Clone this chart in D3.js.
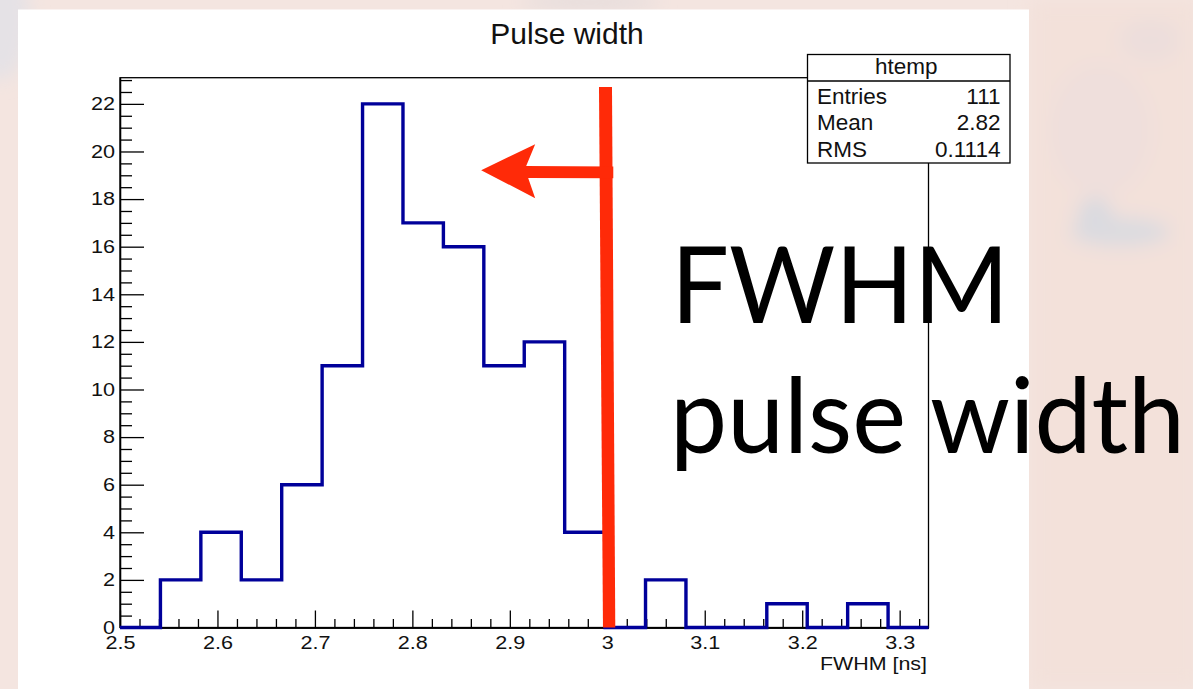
<!DOCTYPE html>
<html>
<head>
<meta charset="utf-8">
<script src="https://cdn.jsdelivr.net/npm/d3@7"></script>
<style>
  html, body { margin: 0; padding: 0; background: #f4e6e2; }
  svg { display: block; }
  .root-text { font-family: "Liberation Sans", Arial, Helvetica, sans-serif; fill: #111; }
  .big { font-family: Lato, "Open Sans", sans-serif; fill: #000; }
</style>
</head>
<body>
<svg id="chart" width="1193" height="689"></svg>
<script>
// Histogram "htemp": FWHM of the recorded pulses, 20 equal bins
const xRange = [2.5, 3.3296];
const binCounts = [0, 2, 4, 2, 6, 11, 22, 17, 16, 11, 12, 4, 0, 2, 0, 0, 1, 0, 1, 0];
const yRange = [0, 23.1];

// Axis ticks
const xMajorTicks = [2.5, 2.6, 2.7, 2.8, 2.9, 3.0, 3.1, 3.2, 3.3];
const yMajorTicks = [0, 2, 4, 6, 8, 10, 12, 14, 16, 18, 20, 22];
const xMinorStep = 0.02;
const yMinorStep = 0.5;

// Text
const chartTitle = "Pulse width";
const xAxisTitle = "FWHM [ns]";
const statsName = "htemp";
const statsLabels = ["Entries", "Mean", "RMS"];
const statsValues = ["111", "2.82", "0.1114"];
const bigLabels = ["FWHM", "pulse width"];

// Cut annotation: keep pulses narrower than 3 ns
const cutValue = 3.0;
const arrowLevel = 19.15;
const arrowTipValue = 2.8706;

const svg = d3.select("#chart");
const W = 1193, H = 689;

// ---- blurred backdrop ----
const defs = svg.append("defs");
defs.append("filter").attr("id", "soft").attr("x", "-50%").attr("y", "-50%")
  .attr("width", "200%").attr("height", "200%")
  .append("feGaussianBlur").attr("stdDeviation", 9);

const bg = svg.append("g");
bg.append("rect").attr("width", W).attr("height", H).attr("fill", "#f4e5e0");
const blobs = bg.append("g").attr("filter", "url(#soft)");
blobs.append("rect").attr("x", 1029).attr("y", 0).attr("width", 170).attr("height", H).attr("fill", "#f3e1da");
blobs.append("ellipse").attr("cx", 0).attr("cy", 20).attr("rx", 30).attr("ry", 60).attr("fill", "#e5e2e6");
blobs.append("ellipse").attr("cx", 590).attr("cy", 2).attr("rx", 70).attr("ry", 8).attr("fill", "#e4dcdc");
blobs.append("ellipse").attr("cx", 1100).attr("cy", 130).attr("rx", 50).attr("ry", 65).attr("fill", "#eedfdc").attr("opacity", 0.8);
blobs.append("ellipse").attr("cx", 1120).attr("cy", 232).attr("rx", 50).attr("ry", 15).attr("fill", "#dcdbe0");
blobs.append("ellipse").attr("cx", 1095).attr("cy", 215).attr("rx", 18).attr("ry", 18).attr("fill", "#dadae0");
blobs.append("ellipse").attr("cx", 1150).attr("cy", 40).attr("rx", 30).attr("ry", 20).attr("fill", "#ecdedc");

// ---- white canvas of the plot ----
svg.append("rect").attr("x", 18).attr("y", 9.5).attr("width", 1011).attr("height", H - 9.5).attr("fill", "#fff");

// ---- scales ----
const frame = { left: 120, right: 928.5, top: 77.7, bottom: 627.5 };
const x = d3.scaleLinear().domain(xRange).range([frame.left, frame.right]);
const y = d3.scaleLinear().domain(yRange).range([frame.bottom, frame.top]);

// Title
svg.append("text").attr("class", "root-text")
  .attr("x", 567).attr("y", 43.5).attr("text-anchor", "middle")
  .attr("font-size", 30).text(chartTitle);

// Frame box
svg.append("rect").attr("x", frame.left).attr("y", frame.top)
  .attr("width", frame.right - frame.left).attr("height", frame.bottom - frame.top)
  .attr("fill", "none").attr("stroke", "#000").attr("stroke-width", 1.3);

// Minor ticks
const xMinor = d3.range(0, Math.round((xRange[1] - xRange[0]) / xMinorStep) + 1)
  .map(i => +(xRange[0] + i * xMinorStep).toFixed(3))
  .filter(v => v <= xRange[1] && !xMajorTicks.some(t => Math.abs(t - v) < 1e-6));
const yMinor = d3.range(0, Math.round(yRange[1] / yMinorStep) + 1)
  .map(i => i * yMinorStep)
  .filter(v => v <= yRange[1] && !yMajorTicks.includes(v));

const axisStyle = g => {
  g.selectAll("line").attr("stroke", "#000").attr("stroke-width", 1.3);
  g.select(".domain").attr("stroke", "#000").attr("stroke-width", 1.3);
  g.attr("font-family", null);
};

svg.append("g").attr("transform", `translate(0,${frame.bottom})`)
  .call(d3.axisBottom(x).tickValues(xMinor).tickSize(-8.5).tickSizeOuter(0).tickFormat(""))
  .call(axisStyle);
svg.append("g").attr("transform", `translate(${frame.left},0)`)
  .call(d3.axisLeft(y).tickValues(yMinor).tickSize(-12).tickSizeOuter(0).tickFormat(""))
  .call(axisStyle);

// Major ticks with labels (ROOT draws these glyphs a little wider)
const stretchLabels = (sel, k) => sel.each(function () {
  const len = this.getComputedTextLength();
  d3.select(this).attr("textLength", len * k).attr("lengthAdjust", "spacingAndGlyphs");
});

const gx = svg.append("g").attr("transform", `translate(0,${frame.bottom})`)
  .call(d3.axisBottom(x).tickValues(xMajorTicks).tickSize(-17).tickSizeOuter(0)
    .tickPadding(9).tickFormat(d3.format("~g")))
  .call(axisStyle);
gx.selectAll("text").attr("class", "root-text").attr("font-size", 18).attr("fill", "#111")
  .call(stretchLabels, 1.2);

const gy = svg.append("g").attr("transform", `translate(${frame.left},0)`)
  .call(d3.axisLeft(y).tickValues(yMajorTicks).tickSize(-24).tickSizeOuter(0)
    .tickPadding(5).tickFormat(d3.format("d")))
  .call(axisStyle);
gy.selectAll("text").attr("class", "root-text").attr("font-size", 18).attr("fill", "#111")
  .call(stretchLabels, 1.2);

// X-axis title
svg.append("text").attr("class", "root-text")
  .attr("x", frame.right - 1.5).attr("y", 670).attr("text-anchor", "end")
  .attr("font-size", 18).text(xAxisTitle)
  .call(stretchLabels, 1.19);

// ---- histogram outline ----
const binWidth = (xRange[1] - xRange[0]) / binCounts.length;
const stepPoints = binCounts.map((c, i) => [xRange[0] + i * binWidth, c]);
stepPoints.push([xRange[1], binCounts[binCounts.length - 1]]);
svg.append("path")
  .datum(stepPoints)
  .attr("fill", "none")
  .attr("stroke", "#00009a")
  .attr("stroke-width", 3.4)
  .attr("stroke-linejoin", "miter")
  .attr("d", d3.line().x(d => x(d[0])).y(d => y(d[1])).curve(d3.curveStepAfter));

// ---- statistics box ----
const sb = { x: 807.5, y: 54.5, w: 202.5, h: 108.5, head: 81 };
svg.append("rect").attr("x", sb.x).attr("y", sb.y).attr("width", sb.w).attr("height", sb.h)
  .attr("fill", "#fff").attr("stroke", "#000").attr("stroke-width", 1.3);
svg.append("line").attr("x1", sb.x).attr("x2", sb.x + sb.w).attr("y1", sb.head).attr("y2", sb.head)
  .attr("stroke", "#000").attr("stroke-width", 1.3);
svg.append("text").attr("class", "root-text").attr("x", sb.x + sb.w / 2 - 2.5).attr("y", 74)
  .attr("text-anchor", "middle").attr("font-size", 22.5).text(statsName);
statsLabels.forEach((lab, i) => {
  const by = 104 + i * 26.4;
  svg.append("text").attr("class", "root-text").attr("x", 817).attr("y", by)
    .attr("font-size", 22.5).text(lab);
  svg.append("text").attr("class", "root-text").attr("x", 1000.5).attr("y", by)
    .attr("text-anchor", "end").attr("font-size", 22.5).text(statsValues[i]);
});

// ---- cut marker and arrow ----
const red = "#ff2a08";
const cx = x(cutValue);
svg.append("polygon")
  .attr("fill", red)
  .attr("points", [
    [cx - 8.3, y(22.71)], [cx + 4.7, y(22.71)],
    [cx + 8.0, y(0)], [cx - 4.3, y(0)]
  ].map(p => p.join(",")).join(" "));

const ay = y(arrowLevel);
const tipX = x(arrowTipValue);
const shaftEnd = cx + 6;
svg.append("polygon")
  .attr("fill", red)
  .attr("points", [
    [tipX, ay - 1.5],
    [tipX + 54, ay - 27.5],
    [tipX + 45, ay - 5.8],
    [shaftEnd, ay - 5.3],
    [shaftEnd, ay + 6.5],
    [tipX + 47, ay + 6.2],
    [tipX + 54, ay + 26.5]
  ].map(p => p.join(",")).join(" "));

// ---- large caption ----
svg.append("text").attr("class", "big")
  .attr("x", 671).attr("y", 323.3).attr("font-size", 106)
  .attr("textLength", 338).attr("lengthAdjust", "spacingAndGlyphs")
  .text(bigLabels[0]);
svg.append("text").attr("class", "big")
  .attr("x", 670).attr("y", 453.3).attr("font-size", 104)
  .attr("textLength", 515).attr("lengthAdjust", "spacingAndGlyphs")
  .text(bigLabels[1]);
</script>
</body>
</html>
